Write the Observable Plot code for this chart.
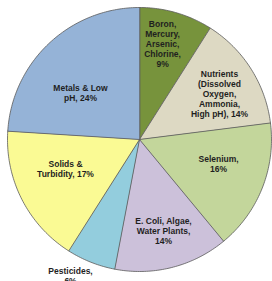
<!DOCTYPE html>
<html>
<head>
<meta charset="utf-8">
<script src="https://cdn.jsdelivr.net/npm/d3@7"></script>
<script src="https://cdn.jsdelivr.net/npm/@observablehq/plot@0.6"></script>
<style>
  html, body { margin: 0; padding: 0; background: #fff; }
  #chart svg { display: block; }
</style>
</head>
<body>
<div id="chart"></div>
<script>
// Data (clockwise from 12 o'clock)
const categories = [
  "Boron, Mercury, Arsenic, Chlorine",
  "Nutrients (Dissolved Oxygen, Ammonia, High pH)",
  "Selenium",
  "E. Coli, Algae, Water Plants",
  "Pesticides",
  "Solids & Turbidity",
  "Metals & Low pH"
];
const values = [9, 14, 16, 14, 6, 17, 24];
const labels = [
  "Boron,\nMercury,\nArsenic,\nChlorine,\n9%",
  "Nutrients\n(Dissolved\nOxygen,\nAmmonia,\nHigh pH), 14%",
  "Selenium,\n16%",
  "E. Coli, Algae,\nWater Plants,\n14%",
  "Pesticides,\n6%",
  "Solids &\nTurbidity, 17%",
  "Metals & Low\npH, 24%"
];
const colors = ["#77933C", "#DDD9C3", "#C3D69B", "#CCC1DA", "#93CDDD", "#FAFA94", "#95B3D7"];

// Label layout (radius factor, angular nudge in degrees), Excel-like placement
const labelLayout = [[0.748, -2.7], [0.699, 2.5], [0.626, -4.7], [0.713, -0.4], [1.155, 5.3], [0.602, 5.6], [0.571, -8.3]];

const total = d3.sum(values);
const toRad = Math.PI / 180;
const pt = (deg, r) => [r * Math.sin(deg * toRad), -r * Math.cos(deg * toRad)];

let acc = 0;
const slices = categories.map((name, i) => {
  const a0 = acc / total * 360;
  acc += values[i];
  const a1 = acc / total * 360;
  const ring = [[0, 0]];
  const n = Math.max(2, Math.ceil((a1 - a0) / 1));
  for (let k = 0; k <= n; k++) ring.push(pt(a0 + (a1 - a0) * k / n, 1));
  ring.push([0, 0]);
  const mid = (a0 + a1) / 2;
  const [rf, da] = labelLayout[i];
  const [lx, ly] = pt(mid + da, rf);
  return {
    type: "Feature",
    properties: {name, value: values[i], label: labels[i], lx, ly},
    geometry: {type: "Polygon", coordinates: [ring]}
  };
});

const chart = Plot.plot({
  width: 272,
  height: 281,
  marginLeft: 7,
  marginRight: 1,
  marginTop: 7,
  marginBottom: 10,
  style: {background: "#fff", overflow: "visible"},
  projection: {
    type: "identity",
    clip: false,
    domain: {type: "MultiPoint", coordinates: [[-1, 0], [1, 0], [0, -1], [0, 1]]}
  },
  color: {domain: categories, range: colors},
  marks: [
    Plot.geo(slices, {
      fill: (d) => d.properties.name,
      stroke: "#5a5a5a",
      strokeWidth: 0.8,
      strokeLinejoin: "round"
    }),
    Plot.text(slices, {
      x: (d) => d.properties.lx,
      y: (d) => d.properties.ly,
      text: (d) => d.properties.label,
      fontFamily: "Liberation Sans, Arial, sans-serif",
      fontWeight: "bold",
      fontSize: 8.5,
      lineHeight: 1.18,
      fill: "#1f1f1f",
      textAnchor: "middle",
      lineAnchor: "middle"
    })
  ]
});
document.getElementById("chart").appendChild(chart);
</script>
</body>
</html>
